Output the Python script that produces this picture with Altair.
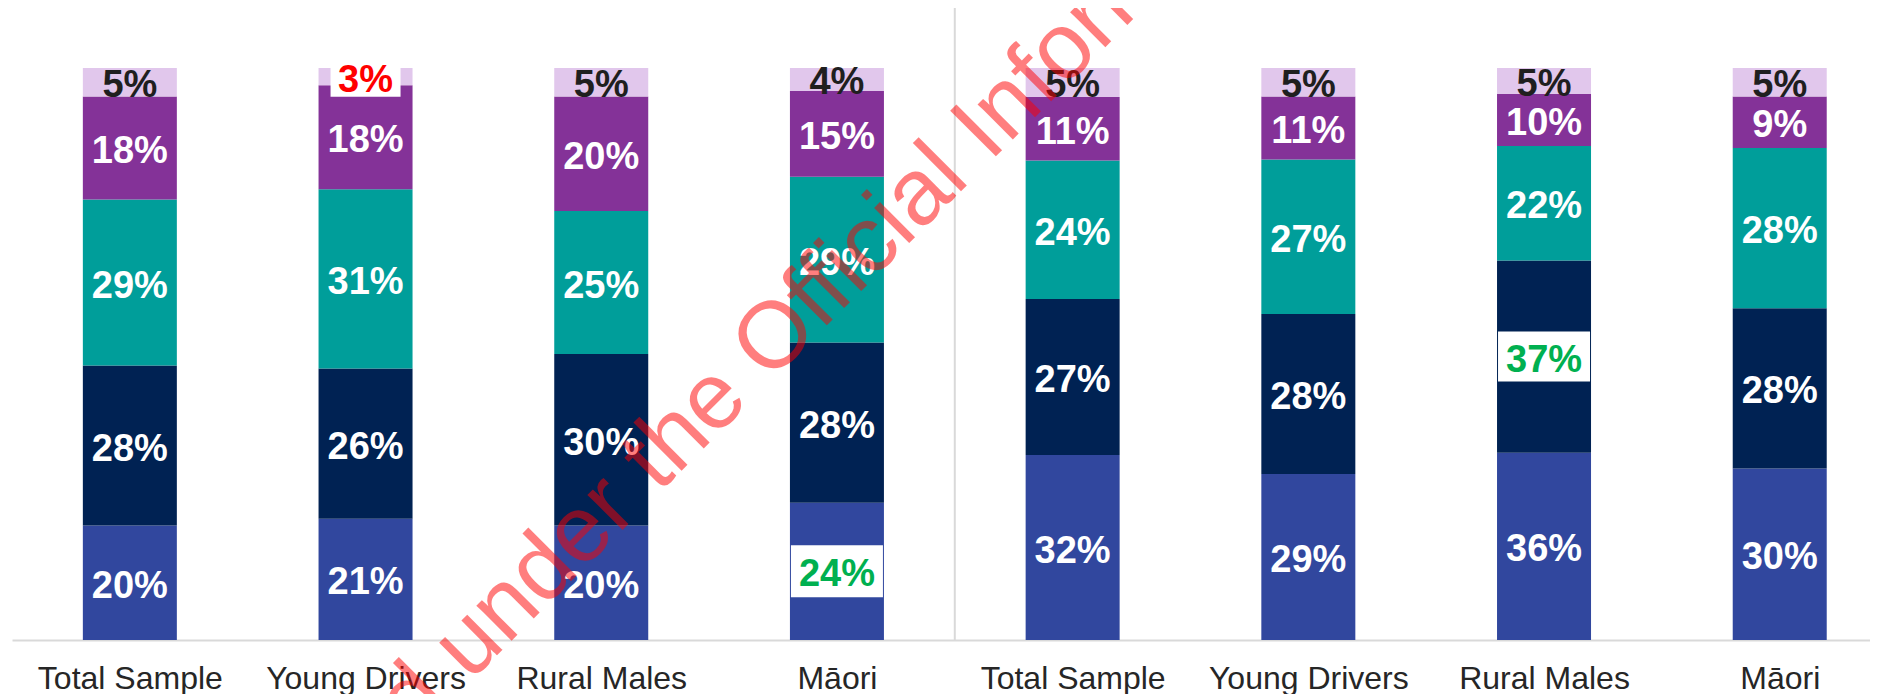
import altair as alt
import pandas as pd

# ---- data ----
groups = ["Total Sample", "Young Drivers", "Rural Males", "Māori",
          "Total Sample", "Young Drivers", "Rural Males", "Māori"]
seg_blue = [20, 21, 20, 24, 32, 29, 36, 30]      # bottom segment
seg_navy = [28, 26, 30, 28, 27, 28, 37, 28]
seg_teal = [29, 31, 25, 29, 24, 27, 22, 28]
seg_purple = [18, 18, 20, 15, 11, 11, 10, 9]
seg_lavender = [5, 3, 5, 4, 5, 5, 5, 5]          # top segment
separator_at = [3.5]                              # between the two groups of four

# highlighted labels: (bar index, segment index, text colour, box width, box height)
highlights = [(1, 4, "#ff0000", 70, 40), (3, 0, "#00b050", 92, 52), (6, 1, "#00b050", 92, 50)]

watermark_text = ["Released under the Official Information Act"]
watermark_x = [0.1735]
watermark_y = [-0.5972]

# ---- styles ----
seg_colors = ["#31479e", "#002253", "#009e9a", "#843298", "#e1c7ec"]
FONT = "Liberation Sans, Arial, sans-serif"

series = [seg_blue, seg_navy, seg_teal, seg_purple, seg_lavender]
rows = []
hl = {(b, s): c for b, s, c, _, _ in highlights}
for i in range(len(groups)):
    for s, vals in enumerate(series):
        tc = "#1f1f1f" if s == 4 else "#ffffff"
        tc = hl.get((i, s), tc)
        rows.append({"idx": i, "group": groups[i], "seg": s, "value": vals[i],
                     "label": f"{vals[i]}%", "tc": tc})
df = pd.DataFrame(rows)

xscale = alt.Scale(domain=[-0.5, 7.383], nice=False, zero=False, padding=0)
yscale = alt.Scale(domain=[0, 1.1049], nice=False, zero=False, padding=0)

label_array = "[" + ",".join(f"'{g}'" for g in groups) + "]"
xaxis = alt.Axis(values=list(range(len(groups))), labelExpr=f"{label_array}[datum.value]",
                 title=None, grid=False, ticks=False, tickSize=0,
                 domainColor="#d9d9d9", domainWidth=2,
                 labelFont=FONT, labelFontSize=32, labelColor="#262626",
                 labelPadding=48, labelBaseline="alphabetic", labelLimit=500,
                 labelFlush=False, labelOverlap=False, labelBound=False)

bars = alt.Chart(df).mark_bar(width=94).encode(
    x=alt.X("idx:Q", scale=xscale, axis=xaxis),
    y=alt.Y("value:Q", stack="normalize", scale=yscale, axis=None),
    color=alt.Color("seg:N", scale=alt.Scale(domain=[0, 1, 2, 3, 4], range=seg_colors), legend=None),
    order=alt.Order("seg:Q", sort="ascending"),
)

sep = alt.Chart(pd.DataFrame({"x": separator_at})).mark_rule(color="#d9d9d9", strokeWidth=2).encode(
    x=alt.X("x:Q", scale=xscale)
)

base = alt.Chart(df).transform_stack(
    stack="value", groupby=["idx"], as_=["y0", "y1"], offset="normalize",
    sort=[alt.SortField("seg", order="ascending")]
).transform_calculate(mid="(datum.y0 + datum.y1) / 2")

box_layers = []
for b, s, c, w, h in highlights:
    box_layers.append(
        base.transform_filter(f"datum.idx == {b} && datum.seg == {s}")
        .mark_rect(color="#ffffff", width=w, height=h)
        .encode(x=alt.X("idx:Q", scale=xscale), y=alt.Y("mid:Q", scale=yscale))
    )

labels = base.mark_text(font=FONT, fontSize=38, fontWeight="bold", baseline="middle", dy=4).encode(
    x=alt.X("idx:Q", scale=xscale),
    y=alt.Y("mid:Q", scale=yscale),
    text="label:N",
    color=alt.Color("tc:N", scale=None),
)

wm = alt.Chart(pd.DataFrame({"x": watermark_x, "y": watermark_y, "t": watermark_text})).mark_text(
    angle=315, align="left", baseline="alphabetic", fontSize=94, font=FONT,
    color="#ff0000", opacity=0.5
).encode(x=alt.X("x:Q", scale=xscale), y=alt.Y("y:Q", scale=yscale), text="t:N")

chart = alt.layer(bars, sep, *box_layers, labels, wm).properties(
    width=1858, height=632,
    autosize=alt.AutoSizeParams(type="none"),
    padding={"left": 4, "top": 0, "right": 0, "bottom": 54},
).configure_view(stroke=None)

chart.save("out.html", embed_options={"renderer": "svg", "actions": False})
